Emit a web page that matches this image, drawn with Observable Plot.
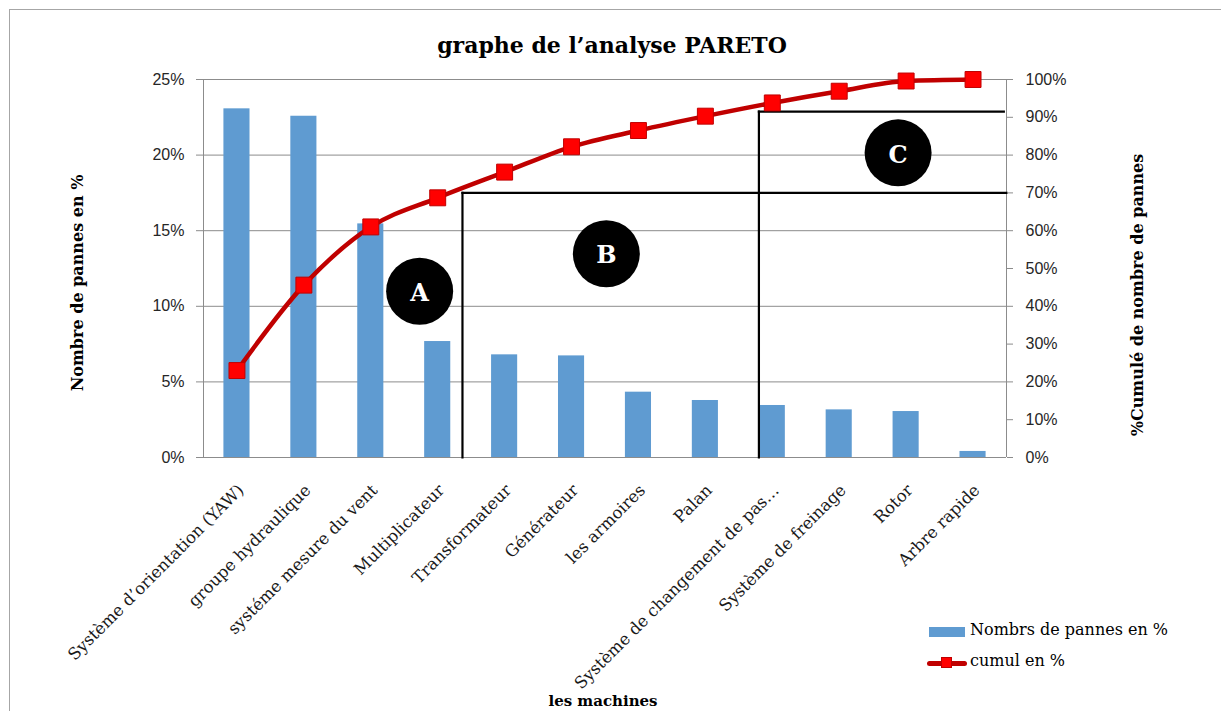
<!DOCTYPE html>
<html>
<head>
<meta charset="utf-8">
<script src="https://cdn.jsdelivr.net/npm/d3@7"></script>
<script src="https://cdn.jsdelivr.net/npm/@observablehq/plot@0.6"></script>
<style>
  body { margin: 0; background: #fff; }
  #wrap { position: relative; width: 1221px; height: 711px; overflow: hidden; font-family: "DejaVu Serif", serif; color: #000; }
  #frame { position: absolute; left: 9px; top: 9px; width: 1240px; height: 740px; border: 1px solid #a6a6a6; box-sizing: border-box; }
  #chart { position: absolute; left: 0; top: 0; }
  .abs { position: absolute; white-space: nowrap; }
  #title { left: 612px; top: 45px; transform: translate(-50%, -50%); font-size: 22px; font-weight: bold; }
  .ytitle { font-size: 16px; font-weight: bold; transform: translate(-50%, -50%) rotate(-90deg); }
  #xtitle { left: 603px; top: 701px; transform: translate(-50%, -50%); font-size: 15px; font-weight: bold; }
  .legtext { font-size: 16px; }
</style>
</head>
<body>
<div id="wrap">
  <div id="frame"></div>
  <div id="chart"></div>
  <div id="title" class="abs"></div>
  <div id="ytitleL" class="abs ytitle" style="left:77px; top:283px;"></div>
  <div id="ytitleR" class="abs ytitle" style="left:1137px; top:295px;"></div>
  <div id="xtitle" class="abs"></div>
  <div id="legend"></div>
</div>
<script>
// ---- data ----
const categories = [
  "Système d’orientation (YAW)",
  "groupe hydraulique",
  "systéme mesure du vent",
  "Multiplicateur",
  "Transformateur",
  "Générateur",
  "les armoires",
  "Palan",
  "Système de changement de pas…",
  "Système de freinage",
  "Rotor",
  "Arbre rapide"
];
const pannes = [23.06, 22.57, 15.45, 7.67, 6.79, 6.72, 4.32, 3.77, 3.44, 3.15, 3.04, 0.40]; // left axis, %
const cumul  = [23.0, 45.6, 61.0, 68.7, 75.5, 82.2, 86.5, 90.3, 93.8, 96.9, 99.6, 100];      // right axis, %
const leftTicks  = [0, 5, 10, 15, 20, 25];
const rightTicks = [0, 10, 20, 30, 40, 50, 60, 70, 80, 90, 100];
// ABC zone boundaries (x in category units, y on the cumulative axis)
const zoneLines = [
  {x1: 3.87, y1: 0,    x2: 3.87,  y2: 70},
  {x1: 3.87, y1: 70,   x2: 12,    y2: 70},
  {x1: 8.30, y1: 0,    x2: 8.30,  y2: 91.5},
  {x1: 8.30, y1: 91.5, x2: 11.96, y2: 91.5}
];
const zoneLabels = [
  {x: 3.23,  y: 44.0, label: "A"},
  {x: 6.02,  y: 53.9, label: "B"},
  {x: 10.38, y: 80.6, label: "C"}
];
const titleText = "graphe de l’analyse PARETO";
const leftTitle = "Nombre de pannes en %";
const rightTitle = "%Cumulé de nombre de pannes";
const xTitle = "les machines";
const legendItems = ["Nombrs de pannes en %", "cumul en %"];

// ---- build ----
const ratio = 100 / 25; // 25% on the left axis == 100% on the right axis
const rows = categories.map((c, i) => ({i, c, p: pannes[i], cum: cumul[i]}));
const serif = "DejaVu Serif";
const sans = "Liberation Sans";
const barBlue = "#5f9bd1";
const lineRed = "#c00000";
const markRed = "#ff0000";

const chart = Plot.plot({
  width: 1221,
  height: 711,
  marginLeft: 203,
  marginRight: 215,
  marginTop: 79,
  marginBottom: 254,
  style: {background: "transparent", overflow: "visible"},
  x: {type: "linear", domain: [0, 12]},
  y: {domain: [0, 100]},
  marks: [
    Plot.ruleY(leftTicks, {y: d => d * ratio, stroke: "#8c8c8c", strokeWidth: 1}),
    Plot.ruleX([0, 12], {y1: 0, y2: 100, stroke: "#8c8c8c", strokeWidth: 1}),
    Plot.rect(rows, {x1: d => d.i + 0.305, x2: d => d.i + 0.695, y1: 0, y2: d => d.p * ratio, fill: barBlue}),
    Plot.link(zoneLines, {x1: "x1", y1: "y1", x2: "x2", y2: "y2", stroke: "#000", strokeWidth: 2.2, strokeLinecap: "square"}),
    Plot.line(rows, {x: d => d.i + 0.5, y: "cum", stroke: lineRed, strokeWidth: 4.5, curve: "monotone-x"}),
    Plot.dot(rows, {x: d => d.i + 0.5, y: "cum", symbol: "square", r: 9, fill: markRed, stroke: lineRed, strokeWidth: 1}),
    Plot.dot(zoneLabels, {x: "x", y: "y", r: 33.5, fill: "#000"}),
    Plot.text(zoneLabels, {x: "x", y: "y", text: "label", fill: "#fff", fontSize: 24, fontWeight: "bold", fontFamily: serif, dy: 2}),
    Plot.axisY({anchor: "left", ticks: leftTicks.map(d => d * ratio), tickFormat: d => (d / ratio) + "%",
      tickSize: 7, tickPadding: 12, label: null, fontSize: 16, fontFamily: sans, stroke: "#8c8c8c", fill: "#262626"}),
    Plot.axisY({anchor: "right", ticks: rightTicks, tickFormat: d => d + "%",
      tickSize: 6, tickPadding: 13, label: null, fontSize: 16, fontFamily: sans, stroke: "#8c8c8c", fill: "#262626"}),
    Plot.axisX({ticks: categories.map((c, i) => i + 0.5), tickFormat: d => categories[Math.round(d - 0.5)],
      tickRotate: -45, tickSize: 0, tickPadding: 22, dy: 8, dx: 4, label: null, fontSize: 16.5, fontFamily: serif, fill: "#1a1a1a"})
  ]
});
document.getElementById("chart").appendChild(chart);

document.getElementById("title").textContent = titleText;
document.getElementById("ytitleL").textContent = leftTitle;
document.getElementById("ytitleR").textContent = rightTitle;
document.getElementById("xtitle").textContent = xTitle;

// legend
const leg = document.getElementById("legend");
leg.innerHTML = `
  <div class="abs" style="left:929px; top:627px; width:36px; height:10px; background:${barBlue};"></div>
  <div class="abs legtext" style="left:970px; top:620px;">${legendItems[0]}</div>
  <div class="abs" style="left:927px; top:661px; width:40px; height:5px; border-radius:3px; background:${lineRed};"></div>
  <div class="abs" style="left:941px; top:657px; width:11px; height:11px; background:${markRed}; border:1px solid ${lineRed}; box-sizing:border-box;"></div>
  <div class="abs legtext" style="left:970px; top:651px;">${legendItems[1]}</div>
`;
</script>
</body>
</html>
